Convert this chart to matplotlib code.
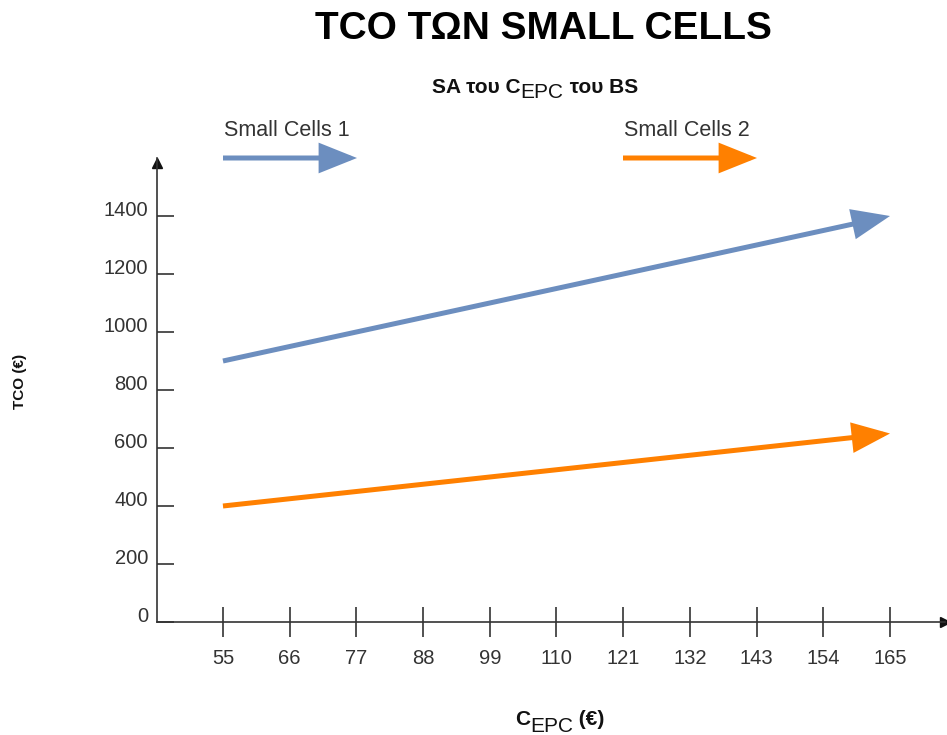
import matplotlib.pyplot as plt
from matplotlib.patches import FancyArrowPatch
from matplotlib.transforms import ScaledTranslation

plt.rcParams['font.family'] = ['Liberation Sans', 'DejaVu Sans']

# TCO of the two small-cell setups against C_EPC
c_epc = [55, 165]
tco_small_cells_1 = [900, 1400]
tco_small_cells_2 = [400, 650]
x_ticks = [55, 66, 77, 88, 99, 110, 121, 132, 143, 154, 165]
y_ticks = [0, 200, 400, 600, 800, 1000, 1200, 1400]
series_names = ['Small Cells 1', 'Small Cells 2']
series_colors = ['#6C8EBF', '#FF8000']

W, H = 947, 735
AX_COLOR = '#333333'
TXT_COLOR = '#333333'


def fx(px):
    return px / W


def fy(py):
    return 1 - py / H


def arrow_props(color):
    return dict(arrowstyle='-|>,head_length=1.05,head_width=0.42', mutation_scale=20,
                lw=3.6, color=color, shrinkA=0, shrinkB=0, joinstyle='miter',
                capstyle='butt')


fig = plt.figure(figsize=(W / 100, H / 100), dpi=100)
ax = fig.add_axes([fx(157), 1 - 622 / H, (945 - 157) / W, (622 - 158) / H])
ax.set_xlim(44.12, 174.07)
ax.set_ylim(0, 1600)

for side in ['top', 'right']:
    ax.spines[side].set_visible(False)
for side in ['left', 'bottom']:
    ax.spines[side].set_linewidth(1.2)
    ax.spines[side].set_color(AX_COLOR)

# arrow tips on the axes
ax.plot(1, 0, '>', color='#111111', ms=7, transform=ax.transAxes, clip_on=False)
ax.plot(0, 1 - 5 / 464, '^', color='#111111', ms=7, transform=ax.transAxes, clip_on=False)

ax.set_xticks(x_ticks)
ax.set_xticklabels([str(v) for v in x_ticks])
ax.set_yticks(y_ticks)
ax.set_yticklabels([str(v) for v in y_ticks])
ax.tick_params(axis='x', direction='inout', length=22, width=1.2, color=AX_COLOR,
               labelsize=14.5, labelcolor=TXT_COLOR, pad=8.5)
ax.tick_params(axis='y', direction='in', length=12.5, width=1.2, color=AX_COLOR,
               labelsize=14.5, labelcolor=TXT_COLOR, pad=6.5)
for lbl in ax.get_yticklabels():
    lbl.set_transform(lbl.get_transform() + ScaledTranslation(0, 7 / 100, fig.dpi_scale_trans))

# the two series, drawn as arrows
for vals, color in zip([tco_small_cells_1, tco_small_cells_2], series_colors):
    ax.annotate('', xy=(c_epc[1], vals[1]), xytext=(c_epc[0], vals[0]),
                xycoords='data', arrowprops=arrow_props(color), annotation_clip=False)

# legend made of arrows with labels above
legend_x = [(223, 357), (623, 757)]
for name, color, (x0, x1) in zip(series_names, series_colors, legend_x):
    fig.text(fx(x0 + 1), fy(136), name, fontsize=15.5, color=TXT_COLOR, va='baseline')
    fig.add_artist(FancyArrowPatch((fx(x0), fy(158)), (fx(x1), fy(158)),
                                   transform=fig.transFigure, **arrow_props(color)))

# titles
fig.text(fx(543), fy(39), 'TCO ΤΩΝ SMALL CELLS', fontsize=28, fontweight='bold',
         ha='center', va='baseline', color='#000000')

t1 = fig.text(fx(432), fy(97), 'SA του C', fontsize=15, fontweight='bold',
              va='bottom', color='#111111')
t2 = ax.annotate('EPC', xy=(1, 0), xycoords=t1, xytext=(0, -5),
                 textcoords='offset pixels', fontsize=15, va='bottom', color='#111111',
                 annotation_clip=False)
ax.annotate(' του BS', xy=(1, 0), xycoords=t2, xytext=(0, 5),
            textcoords='offset pixels', fontsize=15, fontweight='bold', va='bottom',
            color='#111111', annotation_clip=False)

x1 = fig.text(fx(515), fy(729), 'C', fontsize=15, fontweight='bold', va='bottom',
              color='#111111')
x2 = ax.annotate('EPC', xy=(1, 0), xycoords=x1, xytext=(0, -7.5),
                 textcoords='offset pixels', fontsize=15, va='bottom', color='#111111',
                 annotation_clip=False)
ax.annotate(' (€)', xy=(1, 0), xycoords=x2, xytext=(0, 7.5),
            textcoords='offset pixels', fontsize=15, fontweight='bold', va='bottom',
            color='#111111', annotation_clip=False)

fig.text(fx(20), fy(381), 'TCO (€)', fontsize=11, fontweight='bold', rotation=90,
         ha='center', va='center', color='#111111')

fig.savefig('out.png', dpi=100, facecolor='white')
